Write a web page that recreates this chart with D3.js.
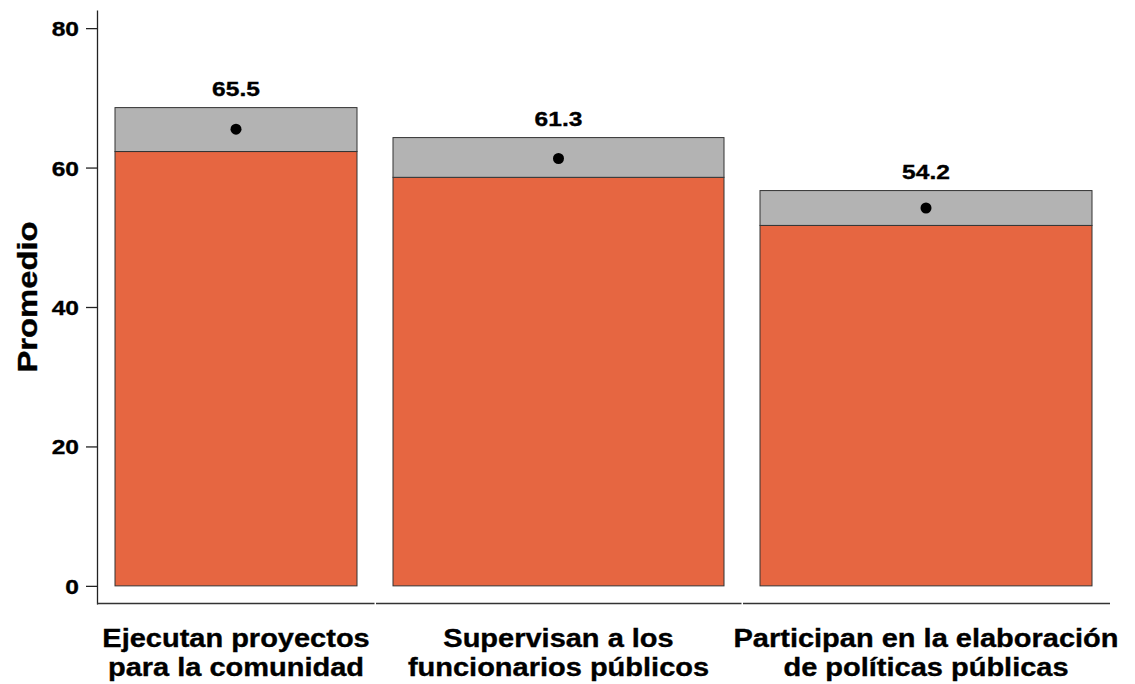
<!DOCTYPE html>
<html><head><meta charset="utf-8">
<script src="https://cdn.jsdelivr.net/npm/d3@7"></script>
<style>body{margin:0;background:#fff}svg{display:block}text{font-family:"Liberation Sans",Arial,sans-serif;font-weight:bold;fill:#000;stroke:#000;stroke-width:0.35px}</style>
</head><body>
<script>
const categories = [["Ejecutan proyectos","para la comunidad"],["Supervisan a los","funcionarios públicos"],["Participan en la elaboración","de políticas públicas"]];
const means = [65.5, 61.3, 54.2];
const lower = [62.3, 58.6, 51.7];
const upper = [68.6, 64.3, 56.7];
const yTicks = [0, 20, 40, 60, 80];
const yTitle = "Promedio";

const W = 1135, H = 684, SX = 1.17;
const svg = d3.select("body").append("svg").attr("width", W).attr("height", H);

const y = d3.scaleLinear().domain([-2.6, 82.6]).range([604, 10]);
// band layout (unequal widths as in the reference)
const bandW = [278, 367, 368];
const edges = [0]; bandW.forEach((w,i)=>edges.push(edges[i]+w));
const xl = d3.scaleLinear().domain([0, edges[3]]).range([97, 1110]);
const pad = 18;
const data = categories.map((c,i)=>({c, m:means[i], lo:lower[i], hi:upper[i], x0:xl(edges[i]), x1:xl(edges[i+1])}));

// y axis
const yAxis = d3.axisLeft(y).tickValues(yTicks).tickSize(11).tickPadding(8).tickSizeOuter(0);
const gy = svg.append("g").attr("transform","translate(97,0)").call(yAxis);
gy.select(".domain").attr("stroke","#222").attr("stroke-width",1.3);
gy.selectAll(".tick line").attr("stroke","#222").attr("stroke-width",1.3);
gy.selectAll(".tick text").style("font-size","21px").attr("fill","#000")
  .attr("x",0).attr("dy",null).attr("dominant-baseline",null)
  .attr("transform","translate(-18,7.5) scale(" + SX + ",1)");

// x axis segments
svg.selectAll("line.xseg").data(data).join("line").attr("class","xseg")
  .attr("x1",d=>d.x0+(d.x0>97?1:0)).attr("x2",d=>d.x1-(d.x1<1110?0.5:0))
  .attr("y1",603.5).attr("y2",603.5).attr("stroke","#333").attr("stroke-width",1.5);

// bars
const g = svg.append("g");
g.selectAll("rect.bar").data(data).join("rect").attr("class","bar")
  .attr("x",d=>d.x0+pad).attr("width",d=>d.x1-d.x0-2*pad)
  .attr("y",d=>y(d.lo)).attr("height",d=>y(0)-y(d.lo))
  .attr("fill","#E66641").attr("stroke","#333").attr("stroke-width",1);
g.selectAll("rect.ci").data(data).join("rect").attr("class","ci")
  .attr("x",d=>d.x0+pad).attr("width",d=>d.x1-d.x0-2*pad)
  .attr("y",d=>y(d.hi)).attr("height",d=>y(d.lo)-y(d.hi))
  .attr("fill","#B3B3B3").attr("stroke","#333").attr("stroke-width",1);
g.selectAll("circle").data(data).join("circle")
  .attr("cx",d=>(d.x0+d.x1)/2).attr("cy",d=>y(d.m)).attr("r",5.5).attr("fill","#000");
g.selectAll("text.val").data(data).join("text").attr("class","val")
  .attr("transform",d=>`translate(${(d.x0+d.x1)/2},${y(d.hi)-12}) scale(${SX},1)`)
  .attr("text-anchor","middle").style("font-size","21px").text(d=>d.m.toFixed(1));

// category labels
const cl = svg.selectAll("text.cat").data(data).join("text").attr("class","cat")
  .attr("transform",d=>`translate(${(d.x0+d.x1)/2},647) scale(1.16,1)`)
  .attr("text-anchor","middle").style("font-size","25px");
cl.each(function(d){
  const t = d3.select(this);
  d.c.forEach((line,j)=>t.append("tspan").attr("x",0).attr("y",j*29.5).text(line));
});

// y title
svg.append("text").attr("transform",`translate(37,297) rotate(-90) scale(${SX},1)`).attr("text-anchor","middle")
  .style("font-size","28px").text(yTitle);
</script>
</body></html>
